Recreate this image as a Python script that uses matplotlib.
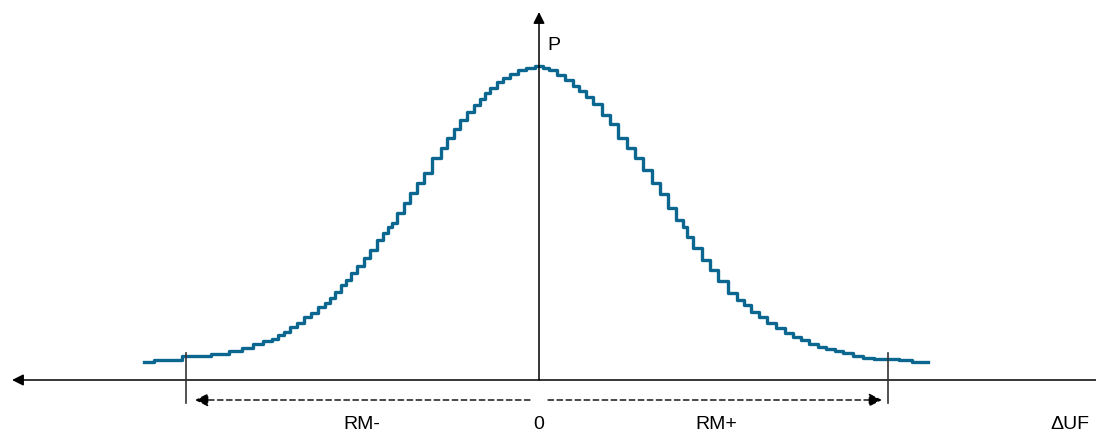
import matplotlib.pyplot as plt

plt.rcParams['font.family'] = ['Liberation Sans', 'DejaVu Sans']

# distribution curve (dUF and P in arbitrary units, 0 at the axes)
duf = [-395, -376, -339, -317, -304, -291, -281, -271, -264, -259,
       -252, -246, -239, -232, -225, -217, -212, -207, -201, -196,
       -191, -186, -179, -172, -166, -159, -153, -149, -146, -139,
       -132, -126, -119, -112, -102, -95, -89, -82, -76, -69,
       -62, -57, -52, -46, -39, -33, -26, -17, -9, 0,
       7, 13, 22, 30, 37, 43, 50, 58, 67, 75,
       83, 92, 100, 108, 117, 125, 133, 141, 146, 150,
       158, 167, 174, 183, 194, 201, 208, 216, 224, 232,
       241, 250, 258, 266, 274, 283, 291, 300, 308, 320,
       328, 341, 349, 371, 374, 389]
p = [18.5, 20.5, 24, 26.5, 29.5, 32.5, 36, 39, 41, 45,
     48, 53, 57, 63, 67, 73, 77, 82, 88, 95,
     100, 107, 114, 122, 130, 140, 147, 153, 157, 167,
     177, 187, 197, 207, 222, 232, 242, 251, 260, 268,
     275, 281, 287, 292, 298, 302, 306, 310, 312.5, 314,
     312, 310, 305, 300, 294, 289, 283, 276, 265, 256,
     242, 232, 222, 210, 197, 186, 172, 160, 153, 143,
     132, 120, 110, 99, 87, 80, 75, 68, 63, 57,
     52, 47, 43, 40, 36, 33, 31, 29, 27, 24,
     22, 21, 21, 20.5, 18.5, 18.5]

rm_minus = -353
rm_plus = 349
labels = ["RM-", "0", "RM+"]
label_x = [-177, 0, 177]

fig = plt.figure(figsize=(10.96, 4.34), dpi=100)
ax = fig.add_axes([0, 0, 1, 1])
ax.set_xlim(-539, 557)
ax.set_ylim(-54, 380)
ax.axis('off')

# curve
ax.plot(duf, p, drawstyle='steps-mid', color='#0b6690', lw=2.4, zorder=3)

# axes with arrows
arrow = dict(arrowstyle='-|>', color='black', lw=1.1, mutation_scale=17,
             shrinkA=0, shrinkB=0)
ax.annotate('', xy=(-527, 0), xytext=(566, 0), arrowprops=arrow)
ax.annotate('', xy=(0, 368), xytext=(0, 0), arrowprops=arrow, zorder=4)

# RM limits
for xv in [rm_minus, rm_plus]:
    ax.plot([xv, xv], [-23, 27], color='#333333', lw=1.2, zorder=4)

# dashed range arrows
dashed = dict(arrowstyle='-|>', color='black', lw=1.0, ls=(0, (4, 2.5)),
              mutation_scale=20, shrinkA=0, shrinkB=0)
ax.annotate('', xy=(-344, -20), xytext=(-9, -20), arrowprops=dashed)
ax.annotate('', xy=(343, -20), xytext=(9, -20), arrowprops=dashed)

for lab, xv in zip(labels, label_x):
    ax.text(xv, -53, lab, ha='center', va='bottom', fontsize=14)
ax.text(511, -53, "ΔUF", ha='left', va='bottom', fontsize=14)
ax.text(8, 343, "P", ha='left', va='top', fontsize=14)

fig.savefig('out.png', dpi=100)
